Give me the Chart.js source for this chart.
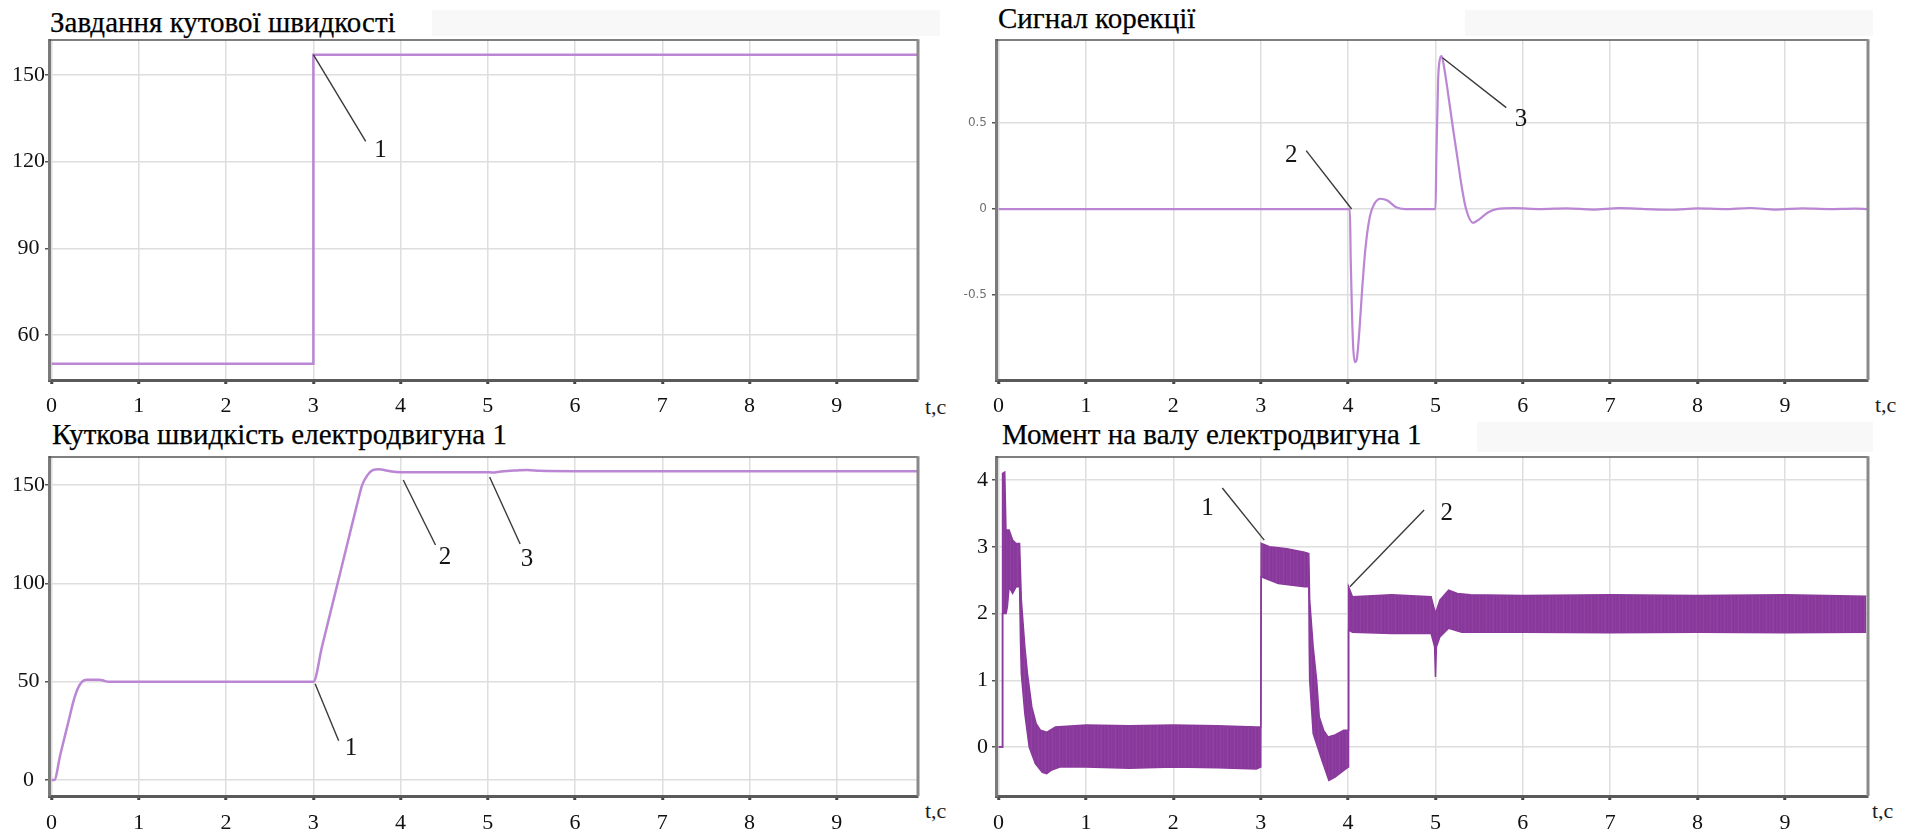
<!DOCTYPE html>
<html><head><meta charset="utf-8">
<script src="https://cdn.jsdelivr.net/npm/chart.js@4.4.1/dist/chart.umd.min.js"></script>
<style>
html,body{margin:0;padding:0;background:#fff;width:1918px;height:838px;overflow:hidden;position:relative;}
canvas{position:absolute;}
.title{position:absolute;font-family:"Liberation Serif","Times New Roman",Tinos,"DejaVu Serif",serif;font-size:29px;line-height:29px;color:#000;white-space:nowrap;-webkit-text-stroke:0.25px #000;}
.tc{position:absolute;font-family:"Liberation Serif","Times New Roman",Tinos,"DejaVu Serif",serif;font-size:22px;line-height:22px;color:#1e1e1e;white-space:nowrap;}
.bg{position:absolute;background:#f8f8f8;}
</style></head><body>
<div class="bg" style="left:432px;top:10px;width:508px;height:26px;"></div>
<div class="bg" style="left:1465px;top:10px;width:408px;height:26px;"></div>
<div class="bg" style="left:1477px;top:422px;width:396px;height:30px;"></div>
<div class="title" id="t1" style="left:50px;top:8px;">Завдання кутової швидкості</div>
<div class="title" id="t2" style="left:998px;top:4px;">Сигнал корекції</div>
<div class="title" id="t3" style="left:52px;top:420px;">Куткова швидкість електродвигуна 1</div>
<div class="title" id="t4" style="left:1002px;top:420px;">Момент на валу електродвигуна 1</div>
<div class="tc" style="left:925px;top:396px;">t,c</div>
<div class="tc" style="left:1875px;top:394px;">t,c</div>
<div class="tc" style="left:925px;top:800px;">t,c</div>
<div class="tc" style="left:1872px;top:800px;">t,c</div>
<canvas id="c1" width="959" height="419" style="left:0;top:0"></canvas>
<canvas id="c2" width="959" height="419" style="left:959px;top:0"></canvas>
<canvas id="c3" width="959" height="419" style="left:0;top:419px"></canvas>
<canvas id="c4" width="959" height="419" style="left:959px;top:419px"></canvas>
<script>
// ---------- data ----------
const X_TICKS = [0,1,2,3,4,5,6,7,8,9];

// Panel 1: speed reference
const P1_T = [0, 3.0, 3.0, 9.93];
const P1_V = [50, 50, 157, 157];
const P1_Y_TICKS = [60, 90, 120, 150];

// Panel 2: correction signal
const P2_T = [0,4.02,4.03,4.045,4.06,4.08,4.1,4.13,4.16,4.2,4.25,4.3,4.37,4.45,4.55,4.65,4.8,5.0,5.01,5.03,5.05,5.07,5.1,5.15,5.2,5.25,5.3,5.35,5.43,5.5,5.6,5.7,5.9,6.2,6.5,6.8,7.1,7.4,7.7,8.0,8.3,8.6,8.9,9.2,9.5,9.8,9.95];
const P2_V = [0,0,-0.3,-0.62,-0.82,-0.89,-0.87,-0.7,-0.47,-0.22,-0.04,0.03,0.06,0.05,0.01,0,0,0,0.3,0.75,0.87,0.89,0.82,0.65,0.47,0.3,0.13,0.0,-0.08,-0.06,-0.02,0,0.005,0,0.004,-0.003,0.005,0,-0.004,0.004,0,0.006,-0.003,0.004,0,0.003,0];
const P2_Y_TICKS = [-0.5, 0, 0.5];

// Panel 3: motor 1 angular speed
const P3_T = [0,0.03,0.1,0.2,0.25,0.3,0.35,0.4,0.55,0.6,0.65,1,2,3,3.1,3.2,3.3,3.4,3.5,3.56,3.62,3.68,3.75,3.82,3.9,4,4.5,5,5.05,5.15,5.3,5.45,5.6,6,7,8,9,9.93];
const P3_V = [0,0,13,31,40,46.5,50,51,51,50.5,50,50,50,50,68,86,104,122,140,150,155,157.5,158,157.5,156.8,156.5,156.5,156.5,156.3,156.8,157.3,157.6,157.2,157,157,157,157,157];
const P3_Y_TICKS = [0, 50, 100, 150];

// Panel 4: shaft torque of motor 1 (ripple band: upper / lower envelopes)
const P4_UP_T = [0,0.04,0.045,0.07,0.085,0.1,0.12,0.16,0.2,0.24,0.26,0.3,0.33,0.38,0.43,0.48,0.55,0.65,1.0,1.5,2.0,2.5,2.95,3.0,3.005,3.1,3.3,3.5,3.55,3.56,3.6,3.64,3.67,3.72,3.77,3.85,3.95,4.0,4.005,4.05,4.5,4.95,4.98,5.0,5.05,5.15,5.25,5.4,6,7,8,9,9.93];
const P4_UP_V = [0,0,4.1,4.12,3.2,3.25,3.25,3.1,3.05,3.05,2.2,1.5,1.1,0.6,0.35,0.25,0.22,0.3,0.33,0.32,0.33,0.32,0.3,0.3,3.05,3.0,2.97,2.92,2.9,2.2,1.5,1.0,0.45,0.25,0.15,0.18,0.25,0.25,2.4,2.25,2.28,2.25,2.1,2.0,2.2,2.35,2.3,2.28,2.27,2.28,2.27,2.28,2.26];
const P4_LO_T = [0,0.04,0.045,0.07,0.085,0.1,0.12,0.16,0.2,0.24,0.25,0.26,0.3,0.35,0.42,0.5,0.55,0.6,0.7,1.0,1.5,2.0,2.5,2.95,3.0,3.005,3.2,3.5,3.55,3.555,3.56,3.6,3.7,3.78,3.85,3.95,4.0,4.005,4.05,4.5,4.95,4.99,5.0,5.01,5.05,5.15,5.3,6,7,8,9,9.93];
const P4_LO_V = [0,0,2.0,2.0,2.0,2.1,2.4,2.3,2.4,2.4,1.6,1.1,0.5,0.0,-0.25,-0.38,-0.4,-0.35,-0.3,-0.3,-0.32,-0.3,-0.31,-0.33,-0.3,2.55,2.45,2.4,2.4,1.5,1.0,0.2,-0.2,-0.5,-0.45,-0.35,-0.3,1.75,1.72,1.7,1.7,1.5,1.05,1.5,1.65,1.78,1.72,1.72,1.71,1.72,1.71,1.72];
const P4_Y_TICKS = [0, 1, 2, 3, 4];

// callout annotations (data units)
const P1_NOTES = [{label:'1', from:[3.0,157], to:[3.6,127], at:[3.77,124]}];
const P2_NOTES = [{label:'2', from:[3.52,0.34], to:[4.04,0.0], at:[3.35,0.31]},
                  {label:'3', from:[5.08,0.88], to:[5.81,0.59], at:[5.98,0.52]}];
const P3_NOTES = [{label:'1', from:[3.02,49], to:[3.29,20], at:[3.43,16]},
                  {label:'2', from:[4.03,152.5], to:[4.4,119.5], at:[4.51,113]},
                  {label:'3', from:[5.02,154], to:[5.37,120], at:[5.45,112]}];
const P4_NOTES = [{label:'1', from:[2.56,3.88], to:[3.04,3.1], at:[2.39,3.58]},
                  {label:'2', from:[4.02,2.4], to:[4.87,3.55], at:[5.13,3.5]}];

// ---------- rendering ----------
const SERIF = '"Liberation Serif","Times New Roman",Tinos,"DejaVu Serif",serif';
const LINE_PURPLE = '#bb86d4';
const BAND_PURPLE = '#8a3a9c';
const pts = (t, v) => t.map((x, i) => ({x, y: v[i]}));

// ripple-band texture: faint vertical streaks
function bandPattern() {
  const c = document.createElement('canvas');
  c.width = 7; c.height = 2;
  const g = c.getContext('2d');
  const cols = ['#88379b', '#8b3b9d', '#8f429f', '#8a3a9c', '#86369a', '#8d3e9e', '#893a9c'];
  cols.forEach((col, i) => { g.fillStyle = col; g.fillRect(i, 0, 1, 2); });
  return g.createPattern(c, 'repeat');
}

const extras = {
  id: 'extras',
  afterDraw(chart, args, opts) {
    const {ctx, chartArea: a, scales: {x, y}} = chart;
    ctx.save();
    ctx.strokeStyle = '#555'; ctx.lineWidth = 1.5;
    ctx.beginPath(); ctx.moveTo(a.left, a.top); ctx.lineTo(a.right, a.top); ctx.stroke();
    ctx.strokeStyle = '#8a8a8a'; ctx.lineWidth = 3;
    ctx.beginPath(); ctx.moveTo(a.right, a.top - 0.75); ctx.lineTo(a.right, a.bottom); ctx.stroke();
    (opts.notes || []).forEach(n => {
      ctx.strokeStyle = '#3a3a3a'; ctx.lineWidth = 1.4;
      ctx.beginPath();
      ctx.moveTo(x.getPixelForValue(n.from[0]), y.getPixelForValue(n.from[1]));
      ctx.lineTo(x.getPixelForValue(n.to[0]), y.getPixelForValue(n.to[1]));
      ctx.stroke();
      ctx.fillStyle = '#151515'; ctx.font = '25px ' + SERIF;
      ctx.textAlign = 'center'; ctx.textBaseline = 'middle';
      ctx.fillText(n.label, x.getPixelForValue(n.at[0]), y.getPixelForValue(n.at[1]));
    });
    ctx.restore();
  }
};

function makeChart(id, o) {
  return new Chart(document.getElementById(id), {
    type: 'line',
    data: {datasets: o.datasets},
    plugins: [extras],
    options: {
      responsive: false, animation: false, devicePixelRatio: 1,
      layout: {padding: {top: o.padTop, right: o.padRight, left: 0, bottom: 0}},
      plugins: {legend: {display: false}, tooltip: {enabled: false}, extras: {notes: o.notes}},
      elements: {point: {radius: 0}},
      scales: {
        x: {
          type: 'linear', min: o.xMin, max: o.xMax,
          afterBuildTicks: s => { s.ticks = X_TICKS.map(v => ({value: v})); },
          afterFit: s => { s.height = o.xH; },
          grid: {color: '#dedede', lineWidth: 1.5, tickLength: 4, tickWidth: 3, tickColor: '#444'},
          border: {display: true, color: '#5a5a5a', width: 3},
          ticks: {font: {family: SERIF, size: 22}, color: '#111', padding: o.xPad,
                  maxRotation: 0, autoSkip: false, callback: v => String(v)}
        },
        y: {
          type: 'linear', min: o.yMin, max: o.yMax,
          afterBuildTicks: s => { s.ticks = o.yTicks.map(v => ({value: v})); },
          afterFit: s => { s.width = o.yW; },
          grid: {color: '#dedede', lineWidth: 1.5, tickLength: 4, tickWidth: 1.5, tickColor: '#555'},
          border: {display: true, color: '#7a7a7a', width: 3},
          ticks: Object.assign({autoSkip: false, callback: v => String(v)}, o.yTickOpts)
        }
      }
    }
  });
}

const serifY = {font: {family: SERIF, size: 22}, color: '#111', padding: 0, crossAlign: 'center'};

makeChart('c1', {
  datasets: [{data: pts(P1_T, P1_V), borderColor: LINE_PURPLE, borderWidth: 2.5, tension: 0}],
  xMin: -0.03, xMax: 9.93, yMin: 44.4, yMax: 162.1, yTicks: P1_Y_TICKS,
  yW: 49, xH: 39, padTop: 40, padRight: 41, xPad: 9, yTickOpts: serifY, notes: P1_NOTES
});

makeChart('c2', {
  datasets: [{data: pts(P2_T, P2_V), borderColor: LINE_PURPLE, borderWidth: 2.2, tension: 0, cubicInterpolationMode: 'monotone'}],
  xMin: -0.03, xMax: 9.95, yMin: -0.994, yMax: 0.983, yTicks: P2_Y_TICKS,
  yW: 37, xH: 39, padTop: 40, padRight: 50, xPad: 9,
  yTickOpts: {font: {family: '"DejaVu Sans",sans-serif', size: 12}, color: '#707070', padding: 5, crossAlign: 'near'},
  notes: P2_NOTES
});

makeChart('c3', {
  datasets: [{data: pts(P3_T, P3_V), borderColor: LINE_PURPLE, borderWidth: 2.5, tension: 0, cubicInterpolationMode: 'monotone'}],
  xMin: -0.03, xMax: 9.93, yMin: -8.1, yMax: 164.2, yTicks: P3_Y_TICKS,
  yW: 49, xH: 42, padTop: 38, padRight: 41, xPad: 10, yTickOpts: serifY, notes: P3_NOTES
});

makeChart('c4', {
  datasets: [
    {data: pts(P4_UP_T, P4_UP_V), borderColor: BAND_PURPLE, borderWidth: 1.5, tension: 0, fill: false},
    {data: pts(P4_LO_T, P4_LO_V), borderColor: BAND_PURPLE, borderWidth: 1.5, tension: 0, fill: '-1', backgroundColor: bandPattern()}
  ],
  xMin: -0.03, xMax: 9.95, yMin: -0.734, yMax: 4.345, yTicks: P4_Y_TICKS,
  yW: 37, xH: 42, padTop: 38, padRight: 50, xPad: 10,
  yTickOpts: {font: {family: SERIF, size: 22}, color: '#111', padding: 4, crossAlign: 'near'},
  notes: P4_NOTES
});
</script>
</body></html>
